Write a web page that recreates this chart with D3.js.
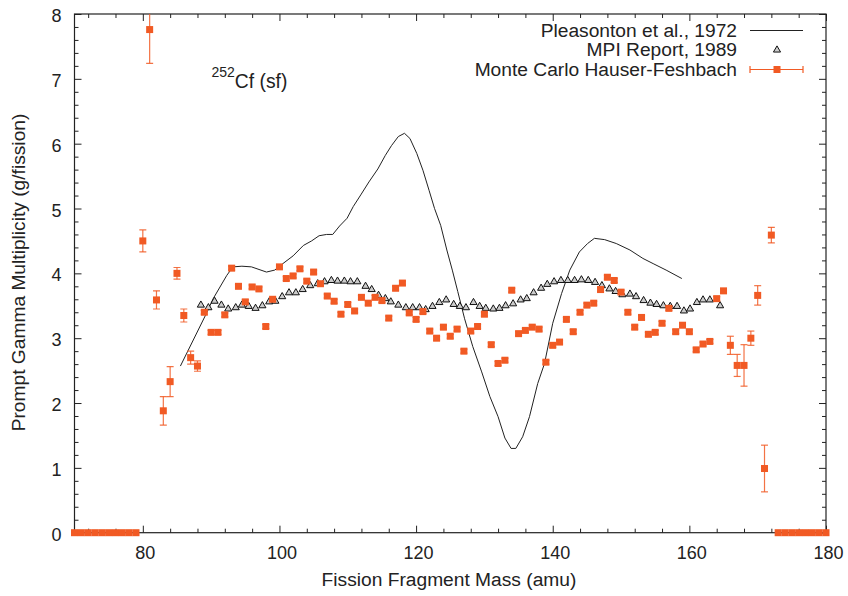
<!DOCTYPE html>
<html><head><meta charset="utf-8">
<script src="https://cdn.jsdelivr.net/npm/d3@7"></script>
<style>
html,body{margin:0;padding:0;background:#fff;}
text{font-family:"Liberation Sans",Arial,Helvetica,sans-serif;fill:#222;}
</style></head>
<body><svg id="c" width="848" height="596"></svg>
<script>
// ---- data ----
const mcMass = [70,71,72,73,74,75,76,77,78,79,80,81,82,83,84,85,86,87,88,89,90,91,92,93,94,95,96,97,98,99,100,101,102,103,104,105,106,107,108,109,110,111,112,113,114,115,116,117,118,119,120,121,122,123,124,125,126,127,128,129,130,131,132,133,134,135,136,137,138,139,140,141,142,143,144,145,146,147,148,149,150,151,152,153,154,155,156,157,158,159,160,161,162,163,164,165,166,167,168,169,170,171,172,173,174,175,176,177,178,179,180];
const mcValue = [0,0,0,0,0,0,0,0,0,0,4.50,7.76,3.59,1.88,2.33,4.00,3.35,2.70,2.57,3.40,3.09,3.09,3.36,4.08,3.80,3.56,3.79,3.76,3.18,3.60,4.10,3.92,3.96,4.07,3.88,4.02,3.84,3.65,3.57,3.37,3.52,3.42,3.63,3.54,3.63,3.58,3.31,3.77,3.85,3.39,3.29,3.41,3.11,3.00,3.17,3.03,3.14,2.80,3.11,3.18,3.37,2.90,2.61,2.66,3.74,3.07,3.12,3.17,3.14,2.63,2.89,2.94,3.29,3.10,3.40,3.51,3.54,3.75,3.94,3.89,3.71,3.40,3.17,3.32,3.06,3.09,3.23,3.46,3.10,3.20,3.10,2.82,2.91,2.95,3.61,3.73,2.89,2.58,2.58,3.00,3.66,0.99,4.59,0,0,0,0,0,0,0,0];
const mcError = [0,0,0,0,0,0,0,0,0,0,0.17,0.52,0.14,0.22,0.23,0.09,0.10,0.10,0.08,0.03,0.03,0.03,0.03,0.03,0.03,0.03,0.03,0.03,0.03,0.03,0.03,0.03,0.03,0.03,0.03,0.03,0.03,0.03,0.03,0.03,0.03,0.03,0.03,0.03,0.03,0.03,0.03,0.03,0.03,0.03,0.03,0.03,0.03,0.03,0.03,0.03,0.03,0.03,0.03,0.03,0.03,0.03,0.03,0.03,0.03,0.03,0.03,0.03,0.03,0.03,0.03,0.03,0.03,0.03,0.03,0.03,0.03,0.03,0.03,0.03,0.03,0.03,0.03,0.03,0.03,0.03,0.03,0.03,0.03,0.03,0.03,0.03,0.03,0.03,0.03,0.03,0.14,0.17,0.32,0.11,0.15,0.36,0.12,0,0,0,0,0,0,0,0];

const mpiMass = [88.5,89.6,90.5,91.5,92.5,93.6,94.5,95.5,96.5,97.5,98.5,99.4,100.4,101.4,102.4,103.4,104.5,105.6,106.6,107.6,108.5,109.5,110.4,111.4,112.6,113.5,114.5,115.5,116.3,117.4,118.5,119.5,120.5,121.4,122.4,123.4,124.4,125.5,126.4,127.3,128.4,129.3,130.2,131.3,132.2,133.1,134.2,135.3,136.2,137.2,138.3,139.2,140.2,141.2,142.2,143.2,144.2,145.2,146.2,147.2,148.3,149.2,150.2,151.3,152.2,153.3,154.3,155.2,156.2,157.2,158.2,159.2,160.1,161.1,162.0,163.0,164.5];
const mpiValue = [3.52,3.48,3.58,3.52,3.46,3.48,3.52,3.50,3.47,3.51,3.57,3.58,3.65,3.71,3.71,3.76,3.82,3.85,3.88,3.90,3.89,3.89,3.88,3.88,3.81,3.76,3.67,3.62,3.57,3.52,3.48,3.48,3.48,3.45,3.50,3.56,3.60,3.53,3.50,3.48,3.56,3.50,3.47,3.46,3.47,3.51,3.54,3.60,3.62,3.71,3.78,3.84,3.88,3.90,3.90,3.90,3.91,3.90,3.87,3.82,3.77,3.73,3.68,3.69,3.65,3.59,3.55,3.53,3.51,3.50,3.50,3.43,3.46,3.56,3.60,3.60,3.51];

const pleasMass = [85.5,89.3,90.3,92.3,93.2,94.5,95.9,98.1,99.3,100.5,102.0,103.5,104.7,105.8,106.9,107.8,108.8,109.9,110.8,111.9,113.1,114.4,115.5,116.4,117.4,118.3,119.1,120.1,121.0,121.9,122.7,123.6,124.5,125.3,126.1,127.1,128.3,129.6,130.8,132.0,133.0,133.9,134.6,135.6,136.6,137.8,138.8,140.0,141.3,142.5,143.9,145.1,146.1,147.6,149.3,151.3,153.2,154.7,156.6,158.9];
const pleasValue = [2.57,3.38,3.61,3.97,4.10,4.11,4.10,4.02,4.05,4.15,4.27,4.43,4.50,4.58,4.60,4.60,4.73,4.85,5.03,5.21,5.41,5.61,5.82,5.97,6.11,6.16,6.08,5.85,5.59,5.28,5.00,4.74,4.36,4.05,3.72,3.30,2.87,2.48,2.10,1.79,1.46,1.30,1.30,1.48,1.79,2.30,2.61,3.23,3.69,4.05,4.33,4.46,4.54,4.52,4.46,4.36,4.23,4.15,4.05,3.92];

const xTicks = [80,100,120,140,160,180];
const yTicks = [0,1,2,3,4,5,6,7,8];
const legendLabels = ["Pleasonton et al., 1972","MPI Report, 1989","Monte Carlo Hauser-Feshbach"];

// ---- layout ----
const W = 848, H = 596;
const L = 74.5, R = 826, T = 14, B = 532.7;
const ORANGE = "#f15a24";
const svg = d3.select("#c");
const x = d3.scaleLinear().domain([70,180]).range([L,R]);
const y = d3.scaleLinear().domain([0,8]).range([B,T]);

svg.append("defs").append("clipPath").attr("id","clip")
  .append("rect").attr("x",L).attr("y",T).attr("width",R-L).attr("height",B-T);

// axes (ticks inward, mirrored)
const minorX = d3.range(72,180,4).filter(v=>!xTicks.includes(v));
const minorY = d3.range(0,8.0001,0.2).map(v=>+v.toFixed(1)).filter(v=>Math.abs(v-Math.round(v))>1e-6);

function addAxis(gen, tr){ const g = svg.append("g").attr("transform",tr).call(gen);
  g.select(".domain").remove(); g.selectAll("line").attr("stroke","#222").attr("stroke-width",1);
  g.selectAll("text").attr("font-size",18).attr("fill","#222"); return g; }

// bottom
addAxis(d3.axisBottom(x).tickValues(xTicks).tickSize(-7).tickPadding(14).tickFormat(d3.format("d")), `translate(0,${B})`)
  .selectAll("text").attr("dx",2);
addAxis(d3.axisBottom(x).tickValues(minorX).tickSize(-4).tickFormat(""), `translate(0,${B})`);
// top
addAxis(d3.axisTop(x).tickValues(xTicks).tickSize(-7).tickFormat(""), `translate(0,${T})`);
addAxis(d3.axisTop(x).tickValues(minorX).tickSize(-4).tickFormat(""), `translate(0,${T})`);
// left
addAxis(d3.axisLeft(y).tickValues(yTicks).tickSize(-7).tickPadding(13).tickFormat(d3.format("d")), `translate(${L},0)`)
  .selectAll("text").attr("dy","0.42em");
addAxis(d3.axisLeft(y).tickValues(minorY).tickSize(-4).tickFormat(""), `translate(${L},0)`);
// right
addAxis(d3.axisRight(y).tickValues(yTicks).tickSize(-7).tickFormat(""), `translate(${R},0)`);
addAxis(d3.axisRight(y).tickValues(minorY).tickSize(-4).tickFormat(""), `translate(${R},0)`);

svg.append("rect").attr("x",L).attr("y",T).attr("width",R-L).attr("height",B-T)
  .attr("fill","none").attr("stroke","#222").attr("stroke-width",1.2);

const plot = svg.append("g").attr("clip-path","url(#clip)");

// Pleasonton line
const pleas = pleasMass.map((m,i)=>[m,pleasValue[i]]);
plot.append("path").datum(pleas)
  .attr("d", d3.line().x(d=>x(d[0])).y(d=>y(d[1])))
  .attr("fill","none").attr("stroke","#222").attr("stroke-width",1);

// MPI triangles
const tri = d3.symbol().type(d3.symbolTriangle).size(22);
plot.selectAll(".mpi").data(mpiMass.map((m,i)=>[m,mpiValue[i]])).join("path")
  .attr("transform", d=>`translate(${x(d[0])},${y(d[1])+0.6})`)
  .attr("d", tri).attr("fill","#ccc").attr("stroke","#111").attr("stroke-width",1);

// MC error bars + squares
const mc = mcMass.map((m,i)=>({m, v:mcValue[i], e:mcError[i]}));
const eb = plot.append("g").attr("stroke",ORANGE).attr("stroke-width",1.2).attr("stroke-opacity",0.85);
mc.filter(d=>d.e>0).forEach(d=>{
  const cx = x(d.m), y1 = y(d.v+d.e), y2 = y(d.v-d.e);
  eb.append("line").attr("x1",cx).attr("x2",cx).attr("y1",y1).attr("y2",y2);
  eb.append("line").attr("x1",cx-3.5).attr("x2",cx+3.5).attr("y1",y1).attr("y2",y1);
  eb.append("line").attr("x1",cx-3.5).attr("x2",cx+3.5).attr("y1",y2).attr("y2",y2);
});
const sq = 7;
svg.append("g").selectAll("rect").data(mc).join("rect")
  .attr("x", d=>x(d.m)-sq/2).attr("y", d=>y(d.v)-sq/2)
  .attr("width",sq).attr("height",sq).attr("fill",ORANGE);

// annotation
const ann = svg.append("text").attr("x",211.5).attr("y",88).attr("font-size",19.3);
ann.append("tspan").attr("font-size",14).attr("dy",-11).text("252");
ann.append("tspan").attr("dy",11).text("Cf (sf)");

// legend
const lg = svg.append("g");
const lgY = [36.5, 56, 75.5];
legendLabels.forEach((t,i)=>{
  lg.append("text").attr("x",737).attr("y",lgY[i]).attr("text-anchor","end").attr("font-size",19.2).text(t);
});
lg.append("line").attr("x1",750).attr("x2",803).attr("y1",lgY[0]-6).attr("y2",lgY[0]-6).attr("stroke","#222").attr("stroke-width",1);
lg.append("path").attr("transform",`translate(777,${lgY[1]-6})`).attr("d",tri).attr("fill","#ccc").attr("stroke","#111").attr("stroke-width",1);
const ly = lgY[2]-6;
lg.append("line").attr("x1",750).attr("x2",803).attr("y1",ly).attr("y2",ly).attr("stroke",ORANGE).attr("stroke-width",1.2);
lg.append("line").attr("x1",750).attr("x2",750).attr("y1",ly-3.5).attr("y2",ly+3.5).attr("stroke",ORANGE).attr("stroke-width",1.2);
lg.append("line").attr("x1",803).attr("x2",803).attr("y1",ly-3.5).attr("y2",ly+3.5).attr("stroke",ORANGE).attr("stroke-width",1.2);
lg.append("rect").attr("x",777-sq/2).attr("y",ly-sq/2).attr("width",sq).attr("height",sq).attr("fill",ORANGE);

// axis titles
svg.append("text").attr("x",449).attr("y",586).attr("text-anchor","middle").attr("font-size",19.2)
  .text("Fission Fragment Mass (amu)");
svg.append("text").attr("transform",`translate(25,272.5) rotate(-90)`).attr("text-anchor","middle").attr("font-size",19.2)
  .text("Prompt Gamma Multiplicity (g/fission)");
</script></body></html>
